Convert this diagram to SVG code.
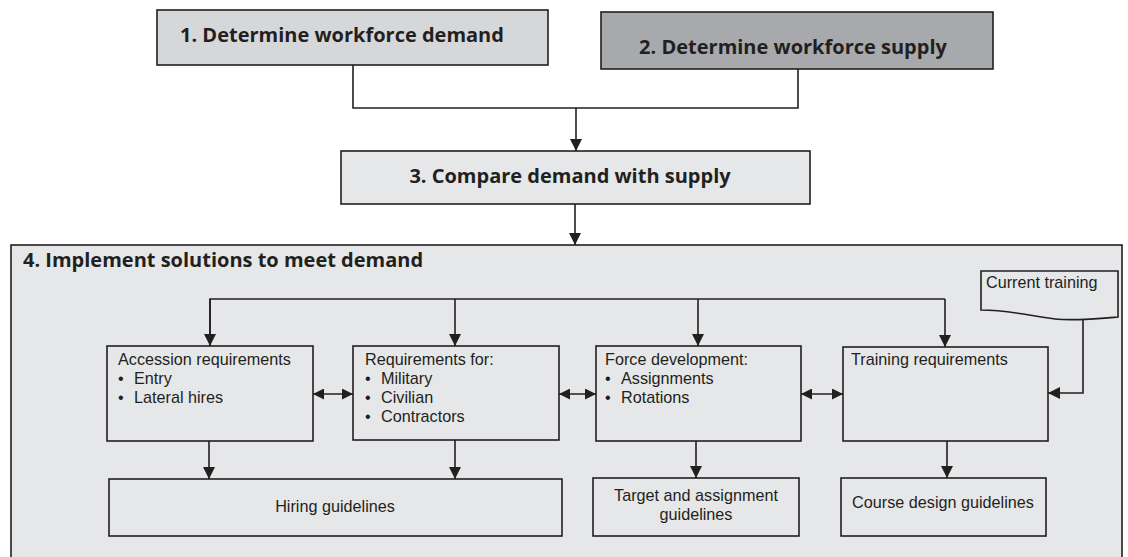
<svg xmlns="http://www.w3.org/2000/svg" width="1128" height="557" viewBox="0 0 1128 557">
<defs>
<style>
.box{fill:#e6e7e8;stroke:#231f20;stroke-width:1.6}
.ln{fill:none;stroke:#231f20;stroke-width:1.6}
.t{font-family:"Liberation Sans",Arial,sans-serif;font-size:16.2px;fill:#231f20}
.b{font-family:"Open Sans","Noto Sans",sans-serif;font-size:20px;font-weight:bold;fill:#231f20}
.c{text-anchor:middle}
</style>
<marker id="ah" markerUnits="userSpaceOnUse" markerWidth="12" markerHeight="12" refX="12" refY="6" orient="auto">
<path d="M0,0 L12,6 L0,12 z" fill="#231f20"/>
</marker>
<marker id="ahs" markerUnits="userSpaceOnUse" markerWidth="11" markerHeight="11" refX="11" refY="5.5" orient="auto-start-reverse">
<path d="M0,0 L11,5.5 L0,11 z" fill="#231f20"/>
</marker>
</defs>
<g id="node4">
<rect class="box" x="11" y="245" width="1111" height="320"/>
<text class="b" x="23" y="267">4. Implement solutions to meet demand</text>
</g>
<g id="node1">
<rect class="box" x="157" y="10" width="391" height="55" style="fill:#d6d7d9"/>
<text class="b" x="180" y="42">1. Determine workforce demand</text>
</g>
<g id="node2">
<rect class="box" x="601" y="12" width="392" height="57" style="fill:#a7a9ac"/>
<text class="b c" x="793" y="54">2. Determine workforce supply</text>
</g>
<g id="node3">
<rect class="box" x="341" y="151" width="469" height="53"/>
<text class="b c" x="570" y="183">3. Compare demand with supply</text>
</g>
<g id="accession">
<rect class="box" x="107" y="346" width="206" height="95"/>
<text class="t"><tspan x="118" y="365">Accession requirements</tspan><tspan x="118" y="384">•</tspan><tspan x="134" y="384">Entry</tspan><tspan x="118" y="403">•</tspan><tspan x="134" y="403">Lateral hires</tspan></text>
</g>
<g id="requirements">
<rect class="box" x="353" y="346" width="206" height="94"/>
<text class="t"><tspan x="365" y="365">Requirements for:</tspan><tspan x="365" y="384">•</tspan><tspan x="381" y="384">Military</tspan><tspan x="365" y="403">•</tspan><tspan x="381" y="403">Civilian</tspan><tspan x="365" y="422">•</tspan><tspan x="381" y="422">Contractors</tspan></text>
</g>
<g id="force">
<rect class="box" x="596" y="346" width="205" height="95"/>
<text class="t"><tspan x="605" y="365">Force development:</tspan><tspan x="605" y="384">•</tspan><tspan x="621" y="384">Assignments</tspan><tspan x="605" y="403">•</tspan><tspan x="621" y="403">Rotations</tspan></text>
</g>
<g id="training">
<rect class="box" x="843" y="347" width="205" height="94"/>
<text class="t" x="851" y="365">Training requirements</text>
</g>
<g id="current">
<path class="box" d="M981,271 H1118 V317 C1095,319 1075,321 1055,319 C1030,316 1010,310 981,310 Z"/>
<text class="t" x="986" y="288">Current training</text>
</g>
<g id="hiring">
<rect class="box" x="109" y="479" width="453" height="57"/>
<text class="t c" x="335" y="512">Hiring guidelines</text>
</g>
<g id="target">
<rect class="box" x="593" y="478" width="206" height="58"/>
<text class="t c"><tspan x="696" y="501">Target and assignment</tspan><tspan x="696" y="520">guidelines</tspan></text>
</g>
<g id="course">
<rect class="box" x="841" y="478" width="205" height="58"/>
<text class="t c" x="943" y="508">Course design guidelines</text>
</g>
<g id="connectors">
<path class="ln" d="M353,65 V108 H798 V69"/>
<path class="ln" d="M576,108 V151" marker-end="url(#ah)"/>
<path class="ln" d="M575,204 V245" marker-end="url(#ah)"/>
<path class="ln" d="M210,346 V299 H945"/>
<path class="ln" d="M210,299 V346" marker-end="url(#ah)"/>
<path class="ln" d="M455,299 V346" marker-end="url(#ah)"/>
<path class="ln" d="M698,299 V346" marker-end="url(#ah)"/>
<path class="ln" d="M945,299 V347" marker-end="url(#ah)"/>
<path class="ln" d="M313,394 H353" marker-start="url(#ahs)" marker-end="url(#ahs)"/>
<path class="ln" d="M559,394 H596" marker-start="url(#ahs)" marker-end="url(#ahs)"/>
<path class="ln" d="M801,394 H843" marker-start="url(#ahs)" marker-end="url(#ahs)"/>
<path class="ln" d="M1083,319 V393 H1048" marker-end="url(#ah)"/>
<path class="ln" d="M209,441 V479" marker-end="url(#ah)"/>
<path class="ln" d="M455,440 V479" marker-end="url(#ah)"/>
<path class="ln" d="M696,441 V478" marker-end="url(#ah)"/>
<path class="ln" d="M947,441 V478" marker-end="url(#ah)"/>
</g>
</svg>
